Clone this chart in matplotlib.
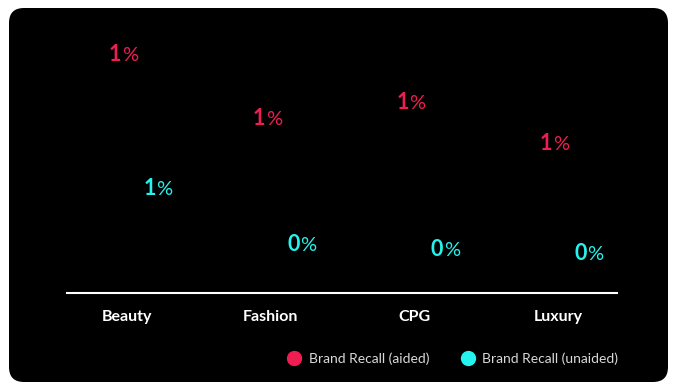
import matplotlib
matplotlib.use("Agg")
import matplotlib.pyplot as plt
import numpy as np
from matplotlib.patches import FancyBboxPatch
from matplotlib.lines import Line2D

categories = ["Beauty", "Fashion", "CPG", "Luxury"]
aided = [1.4, 1.0, 1.1, 0.85]
unaided = [0.57, 0.22, 0.19, 0.16]
series_names = ["Brand Recall (aided)", "Brand Recall (unaided)"]
colors = ["#EE1D52", "#25F4EE"]

plt.rcParams["font.family"] = ["Lato", "DejaVu Sans"]

fig = plt.figure(figsize=(6.8, 3.9), dpi=100)
fig.patch.set_facecolor("white")

# black rounded card behind everything
card = FancyBboxPatch((0.09, 0.08), 6.59, 3.74,
                      boxstyle="round,pad=0,rounding_size=0.15",
                      transform=fig.dpi_scale_trans, fc="black", ec="none", zorder=0)
fig.add_artist(card)

ax = fig.add_axes([67 / 680, 97 / 390, 550 / 680, 273 / 390])
ax.set_facecolor("none")
x = np.arange(len(categories))
ax.set_xlim(-0.42, 3.41)
ax.set_ylim(0, 1.70)

offsets = [-0.04, 0.2]
for vals, off, col in zip([aided, unaided], offsets, colors):
    for xi, v in zip(x, vals):
        ax.annotate(f"{v:.0f}", xy=(xi + off, v), xytext=(0, 5),
                    textcoords="offset points", ha="right", va="baseline",
                    color=col, fontsize=15.5, fontweight="bold")
        ax.annotate("%", xy=(xi + off, v), xytext=(0.4, 5),
                    textcoords="offset points", ha="left", va="baseline",
                    color=col, fontsize=14.5, fontweight="normal")

for s in ["top", "right", "left"]:
    ax.spines[s].set_visible(False)
ax.spines["bottom"].set_color("white")
ax.spines["bottom"].set_linewidth(1.5)
ax.set_yticks([])
ax.set_xticks(x)
ax.set_xticklabels(categories, fontweight="bold", fontsize=11.5, color="white")
ax.tick_params(axis="x", length=0, pad=12)

handles = [Line2D([], [], marker="o", ls="", color=c, markersize=10) for c in colors]
fig.legend(handles, series_names, loc="center left",
           bbox_to_anchor=(287 / 680, 31 / 390), ncol=2, frameon=False,
           fontsize=10, labelcolor="#d9d9d9", handlelength=1, handletextpad=0.55,
           columnspacing=2.3, borderpad=0, borderaxespad=0)

fig.savefig("out.png", dpi=100, facecolor="white")
